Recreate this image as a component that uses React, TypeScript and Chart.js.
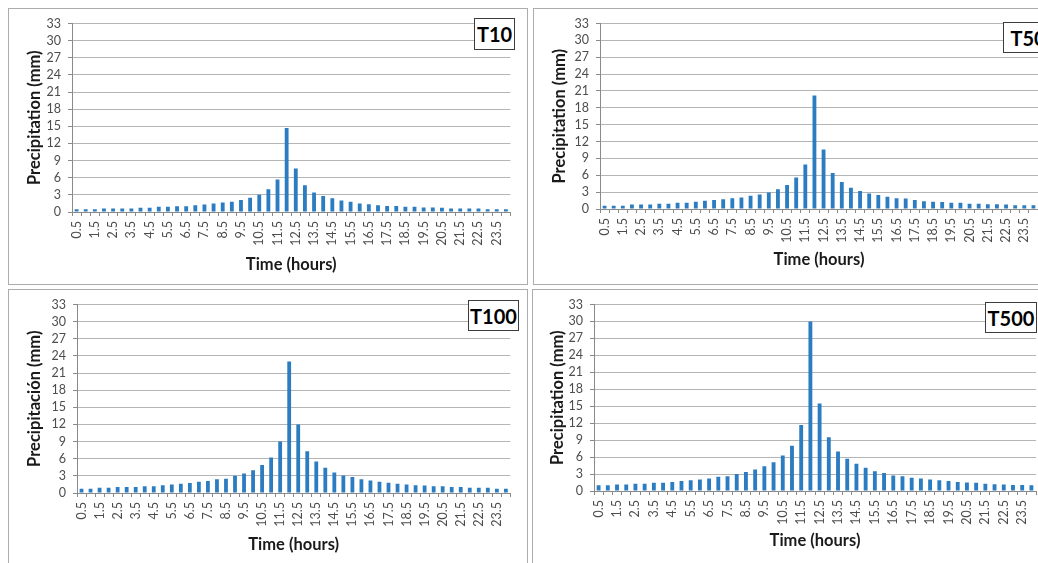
import React, { useEffect, useRef } from 'react';
import { Chart, registerables } from 'chart.js';

Chart.register(...registerables);

// ---------- DATA ----------
const hours = [
  '0.5', '1', '1.5', '2', '2.5', '3', '3.5', '4', '4.5', '5', '5.5', '6',
  '6.5', '7', '7.5', '8', '8.5', '9', '9.5', '10', '10.5', '11', '11.5', '12',
  '12.5', '13', '13.5', '14', '14.5', '15', '15.5', '16', '16.5', '17', '17.5', '18',
  '18.5', '19', '19.5', '20', '20.5', '21', '21.5', '22', '22.5', '23', '23.5', '24',
];

const t10 = [
  0.47, 0.47, 0.47, 0.6, 0.6, 0.6, 0.6, 0.75, 0.75, 0.9, 0.9, 1.0,
  1.0, 1.2, 1.3, 1.5, 1.65, 1.8, 2.1, 2.5, 3.0, 4.0, 5.7, 14.7,
  7.6, 4.7, 3.4, 2.8, 2.4, 2.0, 1.8, 1.5, 1.35, 1.2, 1.05, 1.05,
  0.9, 0.9, 0.8, 0.8, 0.75, 0.6, 0.6, 0.6, 0.6, 0.5, 0.5, 0.5,
];

const t50 = [
  0.6, 0.6, 0.6, 0.8, 0.8, 0.8, 0.95, 0.95, 1.1, 1.1, 1.3, 1.45,
  1.6, 1.75, 1.9, 2.05, 2.35, 2.6, 2.95, 3.5, 4.25, 5.6, 7.9, 20.2,
  10.6, 6.4, 4.8, 3.8, 3.2, 2.75, 2.5, 2.2, 1.9, 1.85, 1.6, 1.4,
  1.3, 1.25, 1.1, 1.1, 0.95, 0.95, 0.85, 0.85, 0.8, 0.65, 0.65, 0.65,
];

const t100 = [
  0.75, 0.75, 0.9, 0.9, 1.05, 1.05, 1.05, 1.2, 1.2, 1.35, 1.5, 1.6,
  1.75, 1.95, 2.1, 2.4, 2.5, 3.0, 3.4, 4.0, 4.9, 6.2, 9.0, 23.0,
  12.0, 7.3, 5.5, 4.4, 3.6, 3.05, 2.8, 2.4, 2.2, 1.95, 1.8, 1.6,
  1.5, 1.35, 1.3, 1.2, 1.2, 1.05, 1.05, 0.9, 0.9, 0.9, 0.75, 0.75,
];

const t500 = [
  1.0, 1.0, 1.15, 1.15, 1.3, 1.3, 1.45, 1.45, 1.6, 1.75, 1.9, 2.05,
  2.2, 2.5, 2.6, 3.0, 3.35, 3.8, 4.4, 5.1, 6.3, 8.0, 11.7, 30.0,
  15.5, 9.5, 7.0, 5.7, 4.8, 4.1, 3.5, 3.2, 2.75, 2.6, 2.35, 2.2,
  2.05, 1.9, 1.75, 1.6, 1.5, 1.45, 1.3, 1.2, 1.15, 1.05, 1.05, 1.0,
];

const yMin = 0;
const yMax = 33;
const yStep = 3;

const xTitle = 'Time (hours)';
const yTitleEn = 'Precipitation (mm)';
const yTitleEs = 'Precipitación (mm)';

// ---------- STYLE / LAYOUT ----------
const FONT = 'Lato, "Open Sans", sans-serif';
const BAR = '#2B7CC1';
const GRID = '#b5b5b5';
const AXIS = '#8a8a8a';
const TICK_TEXT = '#4d4d4d';
const TITLE_TEXT = '#1a1a1a';
const PANEL_BORDER = '#acacac';

type Rect = { l: number; t: number; r: number; b: number };
type PanelCfg = {
  name: string;
  data: number[];
  yTitle: string;
  sep: string;
  border: Rect;
  plot: Rect;
  yTitleX: number;
  xTitleY: number;
  box: { l: number; t: number; w: number; h: number };
};

const panels: PanelCfg[] = [
  {
    name: 'T10', data: t10, yTitle: yTitleEn, sep: '.',
    border: { l: 8, t: 8, r: 527, b: 284 },
    plot: { l: 72, t: 22, r: 513, b: 212 },
    yTitleX: 35, xTitleY: 265,
    box: { l: 474, t: 18, w: 41, h: 32 },
  },
  {
    name: 'T50', data: t50, yTitle: yTitleEn, sep: '.',
    border: { l: 533, t: 8, r: 1070, b: 284 },
    plot: { l: 600, t: 23, r: 1038, b: 209 },
    yTitleX: 560, xTitleY: 260,
    box: { l: 1003, t: 22, w: 50, h: 31 },
  },
  {
    name: 'T100', data: t100, yTitle: yTitleEs, sep: '.',
    border: { l: 8, t: 289, r: 527, b: 590 },
    plot: { l: 77, t: 304, r: 515, b: 493 },
    yTitleX: 35, xTitleY: 545,
    box: { l: 468, t: 300, w: 51, h: 31 },
  },
  {
    name: 'T500', data: t500, yTitle: yTitleEn, sep: '.',
    border: { l: 532, t: 289, r: 1070, b: 590 },
    plot: { l: 594, t: 303, r: 1036, b: 491 },
    yTitleX: 558, xTitleY: 541,
    box: { l: 985, t: 302, w: 52, h: 31 },
  },
];

function Panel({ cfg }: { cfg: PanelCfg }) {
  const ref = useRef<HTMLCanvasElement | null>(null);
  const cl = cfg.border.l + 1;
  const ct = cfg.border.t + 1;
  const cw = cfg.border.r - 1 - cl;
  const ch = cfg.border.b - 1 - ct;

  useEffect(() => {
    if (!ref.current) return;
    const W = cfg.plot.l - cl;
    const H = ct + ch - cfg.plot.b;
    const titleSize = 16.5;
    const lh = titleSize * 1.2;
    const yTitlePad = cfg.yTitleX - cl - lh / 2;
    const xTitlePad = ct + ch - cfg.xTitleY - lh / 2;
    const titleFont: any = { family: FONT, size: titleSize, weight: 'bold', lineHeight: 1.2 };

    const chart = new Chart(ref.current, {
      type: 'bar',
      data: {
        labels: hours,
        datasets: [
          {
            data: cfg.data,
            backgroundColor: BAR,
            barPercentage: 0.42,
            categoryPercentage: 1,
          },
        ],
      },
      options: {
        animation: false,
        responsive: false,
        maintainAspectRatio: false,
        layout: {
          padding: { left: 0, top: cfg.plot.t - ct, right: cl + cw - cfg.plot.r, bottom: 0 },
        },
        plugins: { legend: { display: false }, tooltip: { enabled: false } },
        scales: {
          x: {
            type: 'category',
            offset: true,
            grid: {
              display: true,
              drawOnChartArea: false,
              drawTicks: true,
              tickLength: 4,
              offset: true,
              color: AXIS,
              tickColor: AXIS,
            },
            border: { display: true, color: AXIS, width: 1 },
            ticks: {
              autoSkip: false,
              maxRotation: 90,
              minRotation: 90,
              padding: 5,
              color: TICK_TEXT,
              font: { family: FONT, size: 12.5 },
              callback: (_v: any, i: number) =>
                i % 2 === 0 ? hours[i].replace('.', cfg.sep) : '',
            },
            title: {
              display: true,
              text: xTitle,
              color: TITLE_TEXT,
              font: titleFont,
              padding: { top: 0, bottom: xTitlePad },
            },
            afterFit: (s: any) => {
              s.height = H;
            },
          },
          y: {
            min: yMin,
            max: yMax,
            ticks: {
              stepSize: yStep,
              autoSkip: false,
              maxTicksLimit: 20,
              padding: 7,
              color: TICK_TEXT,
              font: { family: FONT, size: 12.5 },
            },
            grid: { color: GRID, tickColor: AXIS, tickLength: 4, drawTicks: true },
            border: { display: true, color: AXIS },
            title: {
              display: true,
              text: cfg.yTitle,
              color: TITLE_TEXT,
              font: titleFont,
              padding: { top: yTitlePad, bottom: 0 },
            },
            afterFit: (s: any) => {
              s.width = W;
            },
          },
        },
      } as any,
    });
    return () => chart.destroy();
  }, []);

  return (
    <>
      <div
        style={{
          position: 'absolute',
          left: cfg.border.l,
          top: cfg.border.t,
          width: cfg.border.r - cfg.border.l + 1,
          height: cfg.border.b - cfg.border.t + 1,
          boxSizing: 'border-box',
          border: `1px solid ${PANEL_BORDER}`,
          background: '#fff',
        }}
      />
      <canvas
        ref={ref}
        width={cw}
        height={ch}
        style={{ position: 'absolute', left: cl, top: ct, width: cw, height: ch }}
      />
      <div
        style={{
          position: 'absolute',
          left: cfg.box.l,
          top: cfg.box.t,
          width: cfg.box.w,
          height: cfg.box.h,
          boxSizing: 'border-box',
          border: '1px solid #3c3c3c',
          background: '#fff',
          fontFamily: FONT,
          fontWeight: 'bold',
          fontSize: 20,
          color: '#000',
          display: 'flex',
          alignItems: 'center',
          justifyContent: 'center',
          lineHeight: 1,
        }}
      >
        {cfg.name}
      </div>
    </>
  );
}

export default function App() {
  return (
    <div
      style={{
        position: 'fixed',
        left: 0,
        top: 0,
        width: 1038,
        height: 563,
        overflow: 'hidden',
        background: '#fff',
      }}
    >
      {panels.map((p) => (
        <Panel key={p.name} cfg={p} />
      ))}
    </div>
  );
}
